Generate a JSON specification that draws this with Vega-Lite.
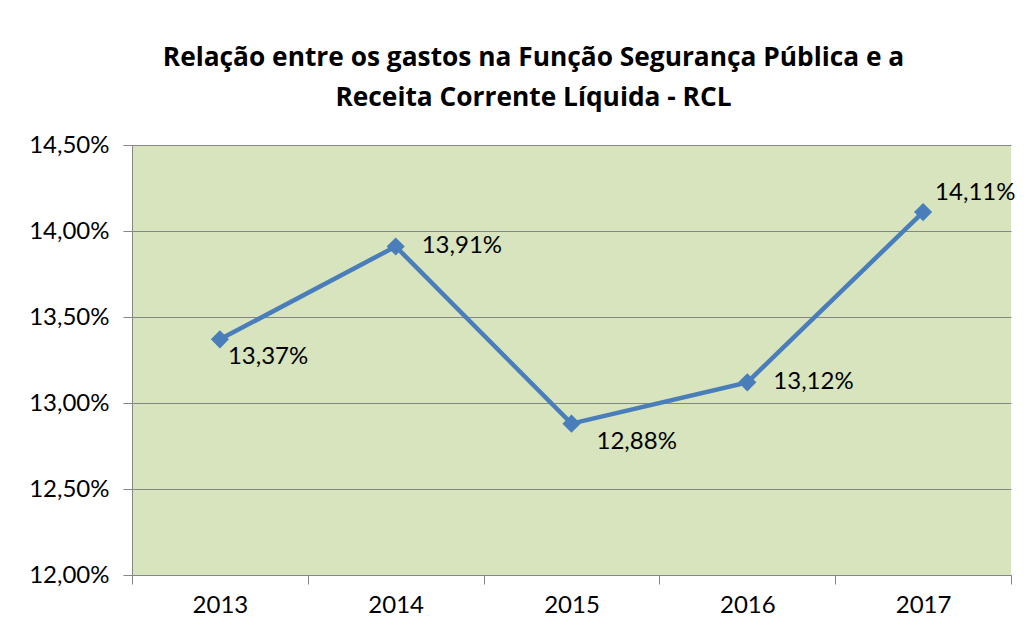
{
  "$schema": "https://vega.github.io/schema/vega-lite/v6.json",
  "width": 879,
  "height": 430,
  "autosize": "none",
  "padding": {"left": 132, "top": 145, "right": 19, "bottom": 59},
  "background": "white",
  "config": {
    "locale": {"number": {"decimal": ",", "thousands": ".", "grouping": [3], "currency": ["R$", ""], "percent": "%"}},
    "font": "Lato",
    "view": {"fill": "#d7e4bd", "stroke": null}
  },
  "title": {
    "text": ["Relação entre os gastos na Função Segurança Pública e a", "Receita Corrente Líquida  - RCL"],
    "font": "Open Sans",
    "fontSize": 26.3,
    "fontWeight": "bold",
    "color": "#000000",
    "anchor": "middle",
    "frame": "group",
    "dx": -38,
    "offset": 22,
    "lineHeight": 40
  },
  "data": {
    "values": [
      {"ano": "2013", "valor": 0.1337},
      {"ano": "2014", "valor": 0.1391},
      {"ano": "2015", "valor": 0.1288},
      {"ano": "2016", "valor": 0.1312},
      {"ano": "2017", "valor": 0.1411}
    ]
  },
  "encoding": {
    "x": {
      "field": "ano",
      "type": "ordinal",
      "scale": {"paddingInner": 0, "paddingOuter": 0},
      "axis": {
        "title": null,
        "labelAngle": 0,
        "labelFont": "Lato",
        "labelFontSize": 24,
        "labelColor": "#000000",
        "labelPadding": 9,
        "tickBand": "extent",
        "tickSize": 9,
        "tickColor": "#868686",
        "domainColor": "#868686",
        "grid": false
      }
    },
    "y": {
      "field": "valor",
      "type": "quantitative",
      "scale": {"domain": [0.12, 0.145], "nice": false, "zero": false},
      "axis": {
        "title": null,
        "values": [0.12, 0.125, 0.13, 0.135, 0.14, 0.145],
        "format": ".2%",
        "labelFont": "Lato",
        "labelFontSize": 24,
        "labelColor": "#000000",
        "labelPadding": 14,
        "tickSize": 9,
        "tickColor": "#868686",
        "domainColor": "#868686",
        "grid": true,
        "gridColor": "#868686",
        "gridOpacity": 1
      }
    }
  },
  "layer": [
    {"mark": {"type": "line", "color": "#4a7ebb", "strokeWidth": 4.5}},
    {"mark": {"type": "point", "shape": "diamond", "filled": true, "size": 330, "color": "#4a7ebb", "opacity": 1}},
    {
      "transform": [{"filter": "datum.ano == '2014' || datum.ano == '2016'"}],
      "mark": {"type": "text", "align": "left", "baseline": "middle", "dx": 26, "dy": 0, "fontSize": 24, "color": "#000000"},
      "encoding": {"text": {"field": "valor", "type": "quantitative", "format": ".2%"}}
    },
    {
      "transform": [{"filter": "datum.ano == '2013'"}],
      "mark": {"type": "text", "align": "left", "baseline": "middle", "dx": 8, "dy": 18, "fontSize": 24, "color": "#000000"},
      "encoding": {"text": {"field": "valor", "type": "quantitative", "format": ".2%"}}
    },
    {
      "transform": [{"filter": "datum.ano == '2015'"}],
      "mark": {"type": "text", "align": "left", "baseline": "middle", "dx": 25, "dy": 18, "fontSize": 24, "color": "#000000"},
      "encoding": {"text": {"field": "valor", "type": "quantitative", "format": ".2%"}}
    },
    {
      "transform": [{"filter": "datum.ano == '2017'"}],
      "mark": {"type": "text", "align": "left", "baseline": "middle", "dx": 12, "dy": -19, "fontSize": 24, "color": "#000000"},
      "encoding": {"text": {"field": "valor", "type": "quantitative", "format": ".2%"}}
    }
  ]
}
